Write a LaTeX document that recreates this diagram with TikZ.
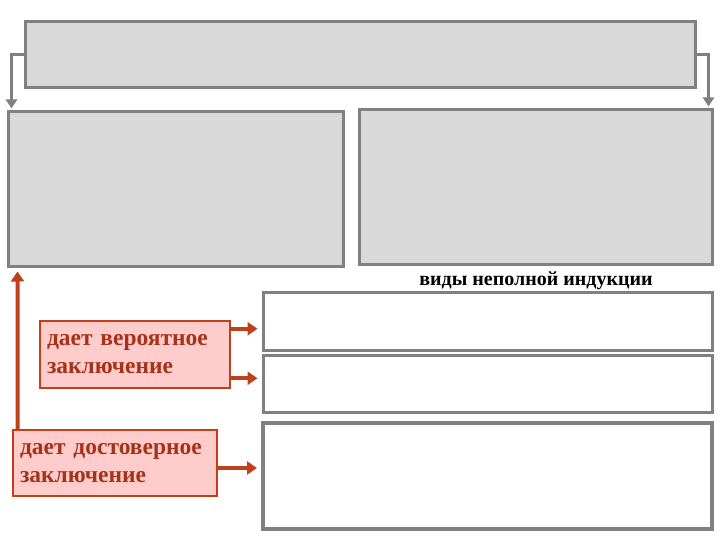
\documentclass[tikz,border=0pt]{standalone}
\usepackage{fontspec}
\setmainfont{Liberation Serif}
\usetikzlibrary{arrows.meta,calc}
\definecolor{boxgray}{RGB}{128,128,128}
\definecolor{boxfill}{RGB}{217,217,217}
\definecolor{redline}{RGB}{192,64,28}
\definecolor{redfill}{RGB}{255,204,204}
\definecolor{redtext}{RGB}{165,50,25}
\tikzset{
  graybox/.style={draw=boxgray, line width=3pt, fill=boxfill, inner sep=0pt},
  whitebox/.style={draw=boxgray, line width=3pt, fill=white, inner sep=0pt},
  redbox/.style={draw=redline, line width=2.5pt, fill=redfill, inner sep=7pt, text=redtext,
    font=\fontsize{23.5}{28}\selectfont\bfseries, align=left, anchor=center},
  grayarrow/.style={draw=boxgray, line width=3pt, -{Triangle[width=11pt,length=9pt]}},
  redarrow/.style={draw=redline, line width=4pt, -{Triangle[width=13pt,length=10pt]}},
}
\begin{document}
\begin{tikzpicture}[x=1pt,y=-1pt]
\useasboundingbox (0,0) rectangle (720,540);
\node[graybox, minimum width=670pt, minimum height=66pt] (top) at (360,55) {};
\node[graybox, minimum width=335pt, minimum height=154pt] (left) at (175.5,189) {};
\node[graybox, minimum width=353pt, minimum height=154pt] (right) at (535.5,187) {};
\node[font=\fontsize{20}{22}\selectfont\bfseries] (lbl) at (536,281) {виды неполной индукции};
\node[whitebox, minimum width=449pt, minimum height=58pt] (b1) at (487.5,321) {};
\node[whitebox, minimum width=449pt, minimum height=57pt] (b2) at (487.5,383.5) {};
\node[whitebox, line width=4pt, minimum width=449pt, minimum height=106pt] (b3) at (487.5,476) {};
\node[redbox, text width=176pt, minimum height=67pt] (r1) at (135,354.5) {дает вероятное\\заключение};
\node[redbox, text width=190pt, minimum height=66pt] (r2) at (115,463) {дает достоверное\\заключение};
\draw[grayarrow] (top.west) -| ($(left.north west)+(5,-2)$);
\draw[grayarrow] (top.east) -| ($(right.north east)+(-5,-2)$);
\draw[redarrow] ($(r1.north east)+(0,9)$) -- ($(b1.west|-r1.north)+(-4,9)$);
\draw[redarrow] ($(r1.south east)+(0,-11)$) -- ($(b2.west|-r1.south)+(-4,-11)$);
\draw[redarrow] ($(r2.east)+(0,5)$) -- ($(b3.west|-r2.east)+(-4,5)$);
\draw[redarrow] ($(r2.north west)+(6,0)$) -- ($(left.south west)+(11,4)$);
\end{tikzpicture}
\end{document}
